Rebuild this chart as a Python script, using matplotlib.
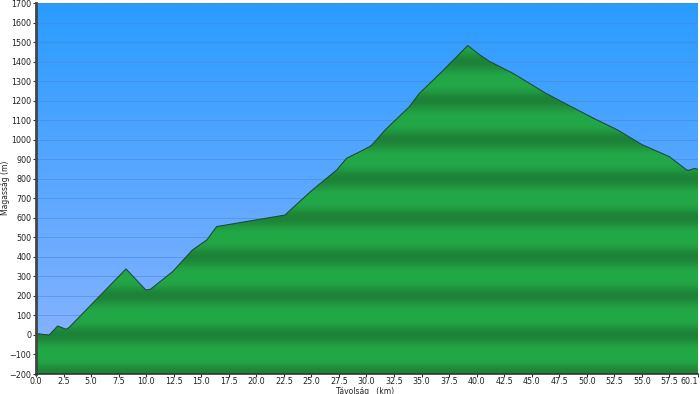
import numpy as np
import matplotlib
matplotlib.use("Agg")
import matplotlib.pyplot as plt
from matplotlib.patches import Polygon

# Profile data (km, m)
distance_km = [0.0, 0.6, 1.2, 1.97, 2.72, 3.0, 5.0, 8.17, 9.98, 10.4, 12.4, 14.2,
               15.5, 16.4, 22.6, 25.0, 27.3, 28.2, 29.1, 29.7, 30.3, 30.5, 31.7,
               33.9, 34.8, 36.7, 39.2, 40.3, 41.2, 43.3, 46.3, 50.6, 52.8, 55.0,
               57.5, 59.0, 59.2, 59.8, 60.1]
elevation_m = [8, 3, 0, 46, 29, 38, 154, 338, 230, 234, 324, 435,
               486, 555, 614, 738, 845, 905, 930, 947, 965, 973, 1050,
               1169, 1237, 1340, 1482, 1434, 1400, 1340, 1237, 1110, 1050, 975,
               913, 848, 842, 853, 848]

x_ticks = list(np.arange(0, 60.0, 2.5)) + [60.1]
x_tick_labels = [f"{v:.1f}" for v in x_ticks]
y_ticks = list(range(-200, 1701, 100))

xmin, xmax = 0.0, 60.1
ymin, ymax = -200, 1700

fig = plt.figure(figsize=(7.0, 3.94), dpi=100)
ax = fig.add_axes([36/700, 20/394, 662/700, 371/394])
ax.set_xlim(xmin, xmax)
ax.set_ylim(ymin, ymax)

# Sky gradient background
ny = 256
t = np.linspace(0, 1, ny)[:, None]  # 0 bottom, 1 top
bottom_c = np.array([142, 180, 255]) / 255
top_c = np.array([42, 156, 255]) / 255
sky = bottom_c + (top_c - bottom_c) * t
sky = np.repeat(sky[:, None, :], 2, axis=1).reshape(ny, 2, 3)
ax.imshow(sky, extent=[xmin, xmax, ymin, ymax], origin="lower", aspect="auto",
          zorder=0, interpolation="bilinear")

# Gridlines
for yv in y_ticks:
    ax.axhline(yv, color="#4a88d6", lw=0.7, alpha=0.55, zorder=1)

# Green banded fill
yy = np.linspace(ymin, ymax, 1200)
phase = np.cos((yy - 0) / 200.0 * 2 * np.pi)  # 1 at even hundreds (dark)
w = np.clip((phase + 1) / 2, 0, 1) ** 1.6
dark = np.array([29, 130, 55]) / 255
light = np.array([35, 168, 72]) / 255
green = light[None, :] * (1 - w[:, None]) + dark[None, :] * w[:, None]
green_img = np.repeat(green[:, None, :], 2, axis=1)
im = ax.imshow(green_img, extent=[xmin, xmax, ymin, ymax], origin="lower",
               aspect="auto", zorder=2, interpolation="bilinear")
verts = list(zip(distance_km, elevation_m)) + [(xmax, ymin), (xmin, ymin)]
poly = Polygon(verts, closed=True, facecolor="none", edgecolor="none",
               transform=ax.transData)
ax.add_patch(poly)
im.set_clip_path(poly)

ax.plot(distance_km, elevation_m, color="#1d4d40", lw=0.8, zorder=3)

# Axes styling
ax.set_xticks(x_ticks)
ax.set_xticklabels(x_tick_labels)
ax.set_yticks(y_ticks)
ax.tick_params(axis="y", labelsize=5.8, length=2.5, width=0.8, color="#333333",
               labelcolor="#222222", pad=1)
ax.tick_params(axis="x", labelsize=5.8, length=2, width=0.8, color="#333333",
               labelcolor="#222222", pad=0.5)
lbls = ax.get_xticklabels()
lbls[-1].set_horizontalalignment("right")
for s in ["top", "right"]:
    ax.spines[s].set_visible(False)
ax.spines["left"].set_color("#444444")
ax.spines["left"].set_linewidth(2)
ax.spines["bottom"].set_color("#333333")
ax.spines["bottom"].set_linewidth(1.2)
ax.spines["left"].set_zorder(5)
ax.spines["bottom"].set_zorder(5)

fig.text(6/700, 1 - 188/394, "Magasság (m)", fontsize=5.5, color="#222222",
         ha="center", va="center", rotation=90)
fig.text(365/700, 1 - 391/394, "Távolság   (km)", fontsize=5.5, color="#222222",
         ha="center", va="center")

fig.savefig("out.png", dpi=100)
